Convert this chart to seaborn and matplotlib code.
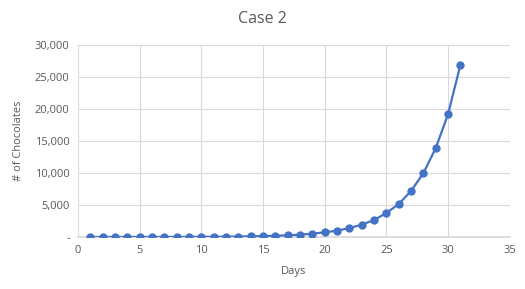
import matplotlib
matplotlib.use("Agg")
import matplotlib.pyplot as plt
import matplotlib.ticker as mticker
import seaborn as sns
import pandas as pd

days = list(range(1, 32))
chocolates = [1, 2, 3, 4, 5, 7, 10, 14, 19, 27, 37, 51, 71, 99, 138, 192, 267,
              371, 516, 718, 998, 1390, 1927, 2660, 3740, 5160, 7190, 10000,
              13900, 19220, 26920]
title = "Case 2"
xlabel = "Days"
ylabel = "# of Chocolates"

df = pd.DataFrame({"Days": days, "Chocolates": chocolates})

sns.set_theme(style="white")
plt.rcParams['font.family'] = ['Open Sans', 'DejaVu Sans']

fig = plt.figure(figsize=(5.25, 2.89), dpi=100)
ax = fig.add_axes([0.1486, 0.18, 0.8224, 0.664])
color = "#4472C4"
sns.lineplot(data=df, x="Days", y="Chocolates", ax=ax, color=color,
             linewidth=1.6, marker="o", markersize=6, markeredgewidth=0,
             zorder=3)

ax.set_xlim(0, 35)
ax.set_ylim(0, 30000)
ax.set_xticks(range(0, 36, 5))
ax.set_yticks(range(0, 30001, 5000))

def yfmt(v, pos):
    return "-" if v == 0 else f"{int(v):,}"
ax.yaxis.set_major_formatter(mticker.FuncFormatter(yfmt))

ax.grid(True, color="#D9D9D9", linewidth=0.8)
for s in ["top", "right", "left"]:
    ax.spines[s].set_visible(False)
ax.spines["bottom"].set_color("#D9D9D9")
ax.tick_params(axis="both", length=0, labelsize=8, colors="#595959", pad=6)

ax.set_xlabel(xlabel, fontsize=8, color="#595959", labelpad=7)
ax.set_ylabel(ylabel, fontsize=8, color="#595959", labelpad=8)
fig.text(0.5, 0.935, title, ha="center", va="center", fontsize=11.5, color="#595959")

fig.savefig("out.png", dpi=100)
